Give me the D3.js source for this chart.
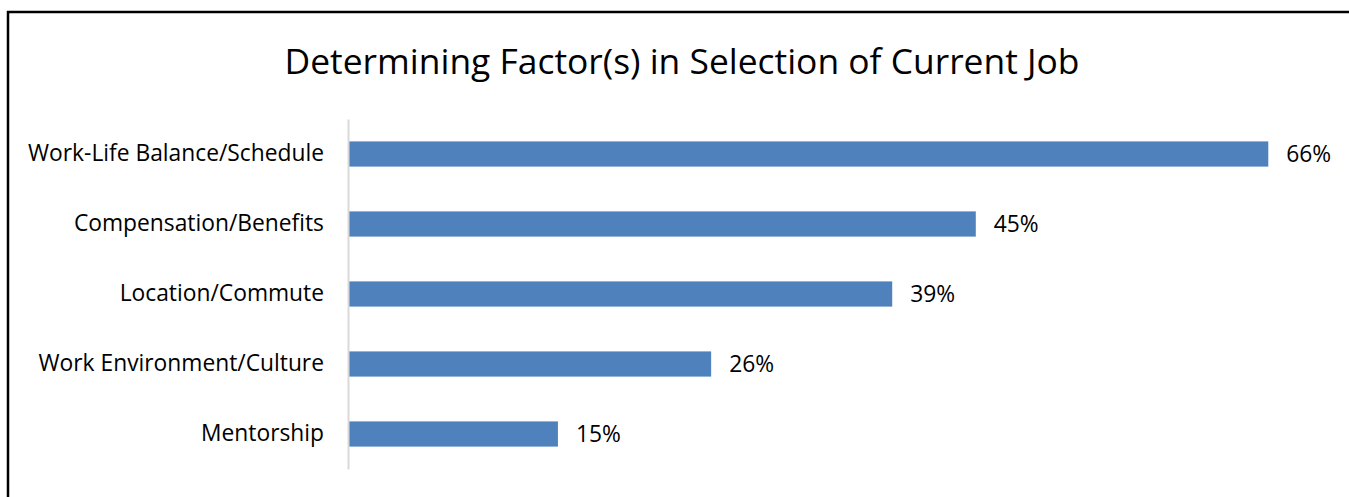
<!DOCTYPE html>
<html>
<head>
<meta charset="utf-8">
<script src="https://cdn.jsdelivr.net/npm/d3@7"></script>
<style>
  body { margin: 0; background: #fff; }
  svg { display: block; }
  text { font-family: "Open Sans", "Noto Sans", sans-serif; fill: #000; }
</style>
</head>
<body>
<script>
// chart data
var categories = ["Work-Life Balance/Schedule", "Compensation/Benefits", "Location/Commute", "Work Environment/Culture", "Mentorship"];
var shares = [0.66, 0.45, 0.39, 0.26, 0.15];
var titleText = "Determining Factor(s) in Selection of Current Job";

var width = 1349, height = 497;

var svg = d3.select("body").append("svg")
    .attr("width", width)
    .attr("height", height);

// frame (only top and left edges show in the crop)
svg.append("path")
    .attr("d", "M8,497 V12 H1349")
    .attr("fill", "none")
    .attr("stroke", "#000")
    .attr("stroke-width", 2.5);

// title
svg.append("text")
    .attr("x", 682)
    .attr("y", 74)
    .attr("text-anchor", "middle")
    .style("font-size", "35.4px")
    .text(titleText);

// scales
var x = d3.scaleLinear()
    .domain([0, 0.70])
    .range([349, 1324]);

var y = d3.scaleBand()
    .domain(categories)
    .range([119, 469])
    .paddingInner(0.64)
    .paddingOuter(0.32);

// bars
svg.selectAll(".bar")
    .data(categories)
    .enter()
    .append("rect")
    .attr("class", "bar")
    .attr("x", x(0))
    .attr("y", function(d){ return y(d); })
    .attr("width", function(d, i){ return x(shares[i]) - x(0); })
    .attr("height", y.bandwidth())
    .attr("fill", "#4f81bd");

// vertical axis with category labels
var yAxis = d3.axisLeft(y).tickSize(0).tickPadding(24);
var gy = svg.append("g")
    .attr("transform", "translate(" + (x(0) - 1) + ",0)")
    .call(yAxis);
gy.select(".domain").attr("stroke", "#d9d9d9").attr("stroke-width", 2);
gy.selectAll("text")
    .style("font-size", "22.8px")
    .style("font-family", "'Open Sans', sans-serif")
    .attr("fill", "#000");

// value labels
svg.selectAll(".val")
    .data(categories)
    .enter()
    .append("text")
    .attr("class", "val")
    .attr("x", function(d, i){ return x(shares[i]) + 18; })
    .attr("y", function(d){ return y(d) + y.bandwidth() / 2; })
    .attr("dy", "0.35em")
    .style("font-size", "22.8px")
    .text(function(d, i){ return d3.format(".0%")(shares[i]); });
</script>
</body>
</html>
